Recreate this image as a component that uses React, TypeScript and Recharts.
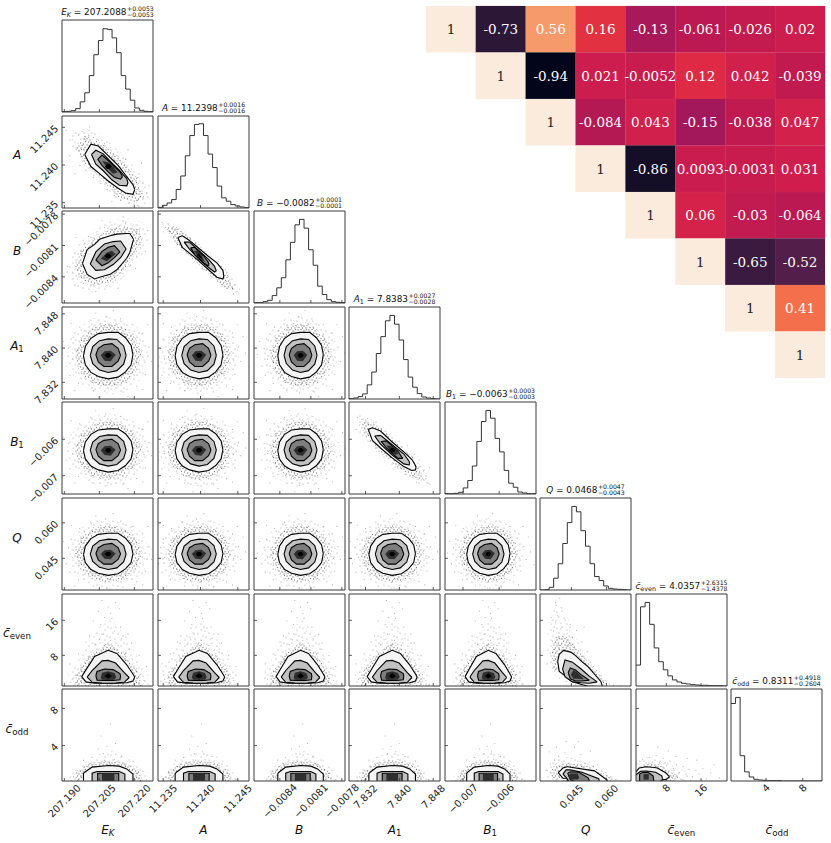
import React from 'react';
import {
  ComposedChart,
  ScatterChart,
  Scatter,
  Area,
  Line,
  XAxis,
  YAxis,
  ReferenceArea,
} from 'recharts';

type Row = [number, number, number];
type Shape = { halo: Row[]; halo2: Row[]; levels: Row[][]; dots: [number, number][] };

const PARAM_NAMES = ['EK', 'A', 'B', 'A1', 'B1', 'Q', 'even', 'odd'];
const MEDIANS = [207.2088, 11.2398, -0.0082, 7.8383, -0.0063, 0.0468, 4.04, 0.83];
const SIGMAS = [0.0053, 0.0016, 0.00011, 0.00275, 0.0003, 0.0045, 1, 1];
const RANGES = [
  [207.189, 207.228],
  [11.2343, 11.2465],
  [-0.00865, -0.00777],
  [7.8281, 7.8496],
  [-0.0075, -0.00498],
  [0.0316, 0.0705],
  [1, 22],
  [0.18, 10.1],
];
const TICKS = [
  [207.19, 207.205, 207.22],
  [11.235, 11.24, 11.245],
  [-0.0084, -0.0081, -0.0078],
  [7.832, 7.84, 7.848],
  [-0.007, -0.006],
  [0.045, 0.06],
  [8, 16],
  [4, 8],
];
const TICK_DIGITS = [3, 3, 4, 3, 3, 3, 0, 0];

// bin heights, 20 bins each
const HIST_EK = [1, 2, 4, 10, 30, 57, 108, 170, 212, 247, 245, 220, 176, 108, 68, 35, 12, 5, 2, 1];
const HIST_A = [2, 8, 15, 25, 55, 95, 155, 215, 248, 250, 215, 160, 120, 65, 30, 20, 10, 6, 3, 1];
const HIST_B = [1, 1, 4, 8, 22, 45, 75, 128, 180, 232, 248, 222, 158, 112, 50, 25, 10, 4, 2, 1];
const HIST_A1 = [1, 3, 7, 15, 42, 80, 135, 185, 232, 248, 222, 175, 117, 65, 35, 16, 6, 3, 1, 0];
const HIST_B1 = [1, 1, 2, 5, 18, 40, 83, 156, 215, 248, 225, 165, 125, 70, 32, 20, 6, 3, 1, 1];
const HIST_Q = [0, 1, 8, 35, 78, 138, 200, 248, 232, 176, 130, 78, 40, 28, 12, 5, 3, 2, 1, 0];
const HIST_EVEN = [62, 235, 248, 183, 113, 72, 48, 30, 18, 12, 8, 6, 4, 3, 2, 2, 1, 1, 1, 0];
const HIST_ODD = [230, 248, 75, 27, 12, 5, 3, 2, 1, 1, 1, 0, 0, 0, 0, 0, 0, 0, 0, 0];
const HISTS = [HIST_EK, HIST_A, HIST_B, HIST_A1, HIST_B1, HIST_Q, HIST_EVEN, HIST_ODD];

const SPOT: Row[] = [[-0.28, 0, 0], [-0.1, -0.2, 0.2], [0.1, -0.2, 0.2], [0.28, 0, 0]];

// contour outlines: [x, low, high], in sigmas from the medians
const ROUND: Shape = {
  halo: [[-3.4, 0, 0], [-2.8, -1.9, 1.9], [-1.4, -3, 3.1], [0, -3.4, 3.4], [1.4, -3.1, 3], [2.8, -1.9, 2], [3.4, 0, 0]],
  halo2: [[-2.7, 0, 0], [-2.2, -1.5, 1.5], [-1.2, -2.4, 2.4], [0, -2.7, 2.7], [1.2, -2.4, 2.4], [2.2, -1.5, 1.5], [2.7, 0, 0]],
  levels: [
    [[-2, -0.05, -0.05], [-1.85, -0.8, 0.75], [-1.4, -1.45, 1.45], [-0.8, -1.8, 1.85], [0, -2, 1.95], [0.8, -1.85, 1.95], [1.4, -1.4, 1.5], [1.85, -0.8, 0.85], [2, 0.05, 0.05]],
    [[-1.45, 0, 0], [-1.25, -0.7, 0.75], [-0.7, -1.25, 1.25], [0, -1.45, 1.4], [0.7, -1.3, 1.35], [1.25, -0.75, 0.8], [1.45, 0, 0]],
    [[-1, 0.05, 0.05], [-0.8, -0.55, 0.6], [-0.35, -0.95, 0.9], [0.3, -0.95, 1], [0.8, -0.5, 0.6], [1, 0, 0]],
    [[-0.6, 0, 0], [-0.3, -0.45, 0.35], [0.2, -0.5, 0.4], [0.6, 0.05, 0.05]],
    SPOT,
  ],
  dots: [[-2.6, 0.4], [-2.4, -1.1], [-2.9, -0.3], [-3.2, 0.6], [-2.2, 1.5], [-1.9, 2.1], [-1.2, 2.5], [-0.6, 2.7], [0.1, 2.5], [0.7, 2.6], [1.4, 2.2], [2, 1.8], [2.5, 1], [2.7, 0.3], [2.9, -0.4], [2.5, -1.2], [2.1, -1.7], [1.5, -2.3], [0.8, -2.6], [0.1, -2.4], [-0.6, -2.6], [-1.3, -2.3], [-1.9, -1.9], [-3.4, -0.9], [-3, 1.4], [-2.3, 2.4], [-1.4, 3], [-0.2, 3.3], [1, 3.1], [2, 2.6], [2.8, 1.9], [3.3, 0.7], [3.5, -0.5], [3, -1.6], [2.3, -2.6], [1.2, -3.1], [-0.1, -3.2], [-1.2, -3], [-2.4, -2.4], [-3.1, -1.7], [-3.8, 0.1], [-3.6, 1.2], [0.4, 3.8], [-1, 3.6], [3.9, 0.2], [3.7, 1.6], [-0.5, -3.8], [1.6, -3.5], [-2.7, -3], [2.8, -2.9], [-3, 2.7], [3.2, 2.6], [4.2, -1], [-4.3, -0.6]],
};

const EK_A: Shape = {
  halo: [[-3.3, 2.6, 2.6], [-2.6, 0.9, 3.2], [-1, -1.1, 3], [0.5, -2.7, 1.7], [2, -3.6, 0.1], [3.2, -3.2, -1.4], [3.6, -2.7, -2.7]],
  halo2: [[-2.6, 1.5, 1.5], [-1.9, 0.3, 2.6], [-0.5, -1.1, 1.9], [0.9, -2.6, 0.7], [2.3, -3, -0.9], [2.9, -2.5, -2.5]],
  levels: [
    [[-1.9, 1, 1], [-1.4, 0, 1.85], [-0.8, -0.5, 1.7], [0, -1.2, 0.9], [0.8, -1.8, 0.1], [1.4, -2.2, -0.7], [2, -2.3, -1.5], [2.15, -1.9, -1.9]],
    [[-1.35, 1, 1], [-1, 0.2, 1.35], [-0.4, -0.35, 1.05], [0.3, -1.1, 0.3], [0.9, -1.55, -0.3], [1.5, -1.6, -1], [1.6, -1.35, -1.35]],
    [[-0.85, 0.6, 0.6], [-0.5, 0.1, 0.95], [0, -0.45, 0.5], [0.5, -0.9, 0], [1, -1.05, -0.5], [1.15, -0.85, -0.85]],
    [[-0.5, 0.45, 0.45], [0, -0.2, 0.35], [0.4, -0.6, 0], [0.75, -0.5, -0.5]],
    SPOT,
  ],
  dots: [[-2.9, 2.2], [-2.6, 1.6], [-2.4, 2.6], [-2.2, 0.8], [-2.1, 2.9], [-1.9, 2.3], [-1.6, 2.6], [-1.2, 2.4], [-2.3, 0.1], [-1.8, -0.3], [-1.2, -0.9], [-0.8, 2.2], [-0.3, 1.9], [0.2, 1.6], [0.8, 1.2], [1.4, 0.6], [1.9, -0.2], [2.4, -0.9], [-0.6, -1.4], [-0.1, -1.9], [0.5, -2.4], [1, -2.8], [1.7, -3], [2.4, -3.2], [2.8, -2.7], [3.1, -2.2], [3.3, -1.6], [2.8, -1.4], [-3.4, 3], [-3.1, 0.9], [3.6, -3.1], [0.3, -2.9], [-1.5, 3.3], [1.6, 1.4], [-2.7, -0.6], [2.7, 0.3]],
};

const EK_B: Shape = {
  halo: [[-3.4, -1.4, -1.4], [-2.8, -2.6, 0.7], [-1.2, -3.2, 2.2], [0.3, -2.8, 3.1], [1.6, -1.5, 3.3], [2.8, 0.2, 2.9], [3.3, 1.4, 1.4]],
  halo2: [[-2.7, -1, -1], [-2.2, -2.1, 0.5], [-1, -2.6, 1.6], [0.3, -2.2, 2.4], [1.5, -1, 2.6], [2.5, 0.7, 2.3], [2.7, 1.5, 1.5]],
  levels: [
    [[-2.08, -0.65, -0.65], [-1.7, -1.6, 0.55], [-1.1, -2, 1], [-0.7, -1.85, 1.45], [0.15, -1.6, 1.75], [0.7, -1.2, 1.9], [1.5, -0.2, 1.95], [1.75, 0.3, 1.95], [2.05, 1.45, 1.45]],
    [[-1.45, -0.7, -0.7], [-1, -1.25, 0.35], [-0.3, -1.2, 1.05], [0.4, -0.75, 1.25], [1, -0.15, 1.3], [1.45, 0.6, 0.6]],
    [[-1, -0.35, -0.35], [-0.5, -0.85, 0.4], [0, -0.6, 0.75], [0.5, -0.15, 0.9], [0.95, 0.35, 0.35]],
    [[-0.6, -0.25, -0.25], [-0.1, -0.45, 0.3], [0.3, -0.1, 0.45], [0.6, 0.15, 0.15]],
    SPOT,
  ],
  dots: [[-2.9, -1.4], [-2.6, -0.6], [-2.5, -2], [-2.2, 0.4], [-1.9, 1.1], [-1.6, 1.7], [-2, -2.4], [-1.4, -2.6], [-0.7, -2.5], [-0.9, 2.1], [-0.3, 2.5], [0.3, 2.7], [0.9, 2.6], [1.4, 2.8], [2, 2.6], [2.5, 2.3], [2.7, 1.4], [2.6, 0.7], [2.3, 0], [1.8, -0.8], [1.2, -1.5], [0.6, -2.1], [0, -2.3], [-3.3, -0.9], [-1, -3.1], [0.8, -2.8], [2.2, -1.1], [3, 0.4], [3.2, 2.2], [1.2, 3.4], [-0.5, 3.1], [-2.6, 1.6]],
};

const A_B: Shape = {
  halo: [[-3.4, 3.1, 3.1], [-2.6, 1.9, 3.1], [-1.4, 0.5, 2.3], [0, -0.9, 1], [1.4, -2.3, -0.3], [2.7, -3.3, -1.7], [3.5, -3.5, -3.5]],
  halo2: [[-2.8, 2.5, 2.5], [-2, 1.1, 2.6], [-0.8, 0, 1.7], [0.8, -1.6, 0.1], [2.2, -2.8, -1.2], [3, -3, -3]],
  levels: [
    [[-1.78, 1.6, 1.6], [-1.4, 0.75, 1.75], [-0.8, 0.25, 1.35], [0, -0.45, 0.65], [0.8, -1.2, -0.05], [1.5, -1.85, -0.6], [2, -2, -1.25], [2.08, -1.77, -1.77]],
    [[-1.25, 1.2, 1.2], [-0.8, 0.6, 1.2], [0, -0.3, 0.45], [0.8, -1, -0.3], [1.3, -1.4, -0.9], [1.45, -1.3, -1.3]],
    [[-0.7, 0.7, 0.7], [-0.35, 0.1, 0.75], [0, -0.2, 0.35], [0.4, -0.6, 0], [0.75, -0.85, -0.5], [0.85, -0.75, -0.75]],
    [[-0.45, 0.4, 0.4], [-0.1, 0, 0.45], [0.2, -0.35, 0.1], [0.5, -0.5, -0.5]],
    [[-0.2, 0.1, 0.1], [0, -0.1, 0.2], [0.1, -0.15, 0.05], [0.25, -0.2, -0.2]],
  ],
  dots: [[-3.1, 2.9], [-2.8, 2.5], [-2.6, 2.8], [-2.4, 2.1], [-2.2, 2.5], [-2, 1.7], [-1.9, 2.3], [-2.5, 2.2], [-1.6, 1], [-1.4, 2], [-1, 0.4], [-0.8, 1.6], [0, 1], [0.5, 0.4], [-0.4, -0.5], [0.3, -1.1], [1, -1.9], [1.6, -0.5], [2.2, -1.2], [2.3, -2.2], [2.4, -1.7], [2.6, -2.4], [2.7, -2], [2.8, -2.8], [3, -2.5], [3.2, -3.1], [2.1, -2.6], [2.9, -3.3], [-3, 2.1], [3.4, -2.9]],
};

const A1_B1: Shape = {
  halo: [[-3.2, 3.3, 3.3], [-2.8, 1.5, 3.3], [-1.4, -0.1, 2.7], [0, -1.4, 1.3], [1.4, -2.7, -0.1], [2.7, -3.2, -1.4], [3.4, -3.3, -3.3]],
  halo2: [[-2.7, 2.4, 2.4], [-2.2, 1.1, 2.7], [-1, -0.1, 2.1], [0.5, -1.6, 0.6], [1.9, -2.6, -0.7], [2.7, -2.7, -2.7]],
  levels: [
    [[-2.05, 1.9, 1.9], [-1.7, 0.9, 2.05], [-1, 0.2, 1.75], [0, -0.7, 0.75], [1, -1.5, -0.15], [1.7, -1.85, -0.85], [2, -1.8, -1.4], [2.05, -1.6, -1.6]],
    [[-1.5, 1.3, 1.3], [-1, 0.55, 1.35], [0, -0.45, 0.5], [1, -1.25, -0.35], [1.45, -1.35, -1], [1.5, -1.25, -1.25]],
    [[-0.95, 0.8, 0.8], [-0.5, 0.2, 0.85], [0, -0.3, 0.4], [0.5, -0.75, -0.1], [0.9, -0.75, -0.75]],
    [[-0.5, 0.4, 0.4], [-0.1, -0.15, 0.4], [0.25, -0.45, 0.1], [0.55, -0.3, -0.3]],
    SPOT,
  ],
  dots: [[-3, 3], [-2.8, 2.3], [-2.6, 2.8], [-2.4, 1.6], [-2.3, 2.5], [-2.1, 2.9], [-1.9, 0.8], [-1.6, 2.5], [-1.4, 0.2], [-0.9, 2], [-0.8, -0.4], [-0.2, 1.4], [0.1, -1.2], [0.6, 0.8], [0.7, -1.7], [1.3, 0.4], [1.2, -2.2], [1.9, -0.4], [1.9, -2.4], [2.3, -0.9], [2.3, -2.1], [2.4, -1.5], [2.5, -2.7], [2.7, -1.9], [2.9, -2.6], [3.1, -3], [2.1, -2.9], [-3.1, 1.9], [3.2, -1.6]],
};

const EVEN_TOP: Shape = {
  halo: [[-3.3, -3.2, -3.2], [-3.2, -3.2, 0], [-2.1, -3.2, 5], [-0.9, -3.2, 10], [0.2, -3.2, 12], [1.3, -3.2, 9], [2.3, -3.2, 4], [3.2, -3.2, -0.6], [3.3, -3.2, -3.2]],
  halo2: [[-2.7, -3.2, -3.2], [-2.6, -3.2, -0.2], [-1.5, -3.2, 3.8], [0, -3.2, 7], [1.3, -3.2, 4.4], [2.5, -3.2, -0.2], [2.7, -3.2, -3.2]],
  levels: [
    [[-2.15, -0.9, -0.9], [-1.8, -2.1, 0.65], [-1.1, -2.4, 3.7], [0, -2.4, 5.1], [0.7, -2.4, 4.4], [1.5, -2.3, 1.8], [2, -1.9, -0.3], [2.15, -1, -1]],
    [[-1.7, -1, -1], [-1.3, -2.2, 0.5], [-0.5, -2.35, 2.7], [0, -2.4, 2.8], [0.6, -2.35, 2.2], [1.3, -2.2, 0], [1.7, -1.1, -1.1]],
    [[-1, -0.7, -0.7], [-0.9, -1.7, 0.3], [-0.3, -1.8, 0.85], [0.4, -1.8, 0.7], [0.95, -1.6, -0.2], [1, -0.8, -0.8]],
    [[-0.6, -1.1, -1.1], [-0.5, -1.6, 0], [0, -1.65, 0.35], [0.5, -1.6, -0.1], [0.65, -1, -1]],
    [[-0.3, -0.8, -0.8], [0, -1.3, 0], [0.3, -0.8, -0.8]],
  ],
  dots: [[-2.9, -1.5], [-2.6, -0.6], [-2.5, -2.2], [-2.2, 1], [-1.9, 2.4], [-1.6, 3.6], [-1.3, 5], [-1, 6.4], [-0.7, 7.5], [-0.4, 8.8], [-0.1, 6.5], [0.2, 7.4], [0.5, 9.5], [0.8, 6.2], [1.1, 7.8], [1.4, 4.3], [1.7, 5.4], [2, 2.2], [2.3, 1], [2.6, -0.4], [2.9, -1.8], [3.2, -2.6], [-1.5, 8.4], [-0.6, 11], [0.3, 12.4], [1, 10.4], [-1.2, 11.8], [1.6, 8.8], [-2.4, 4.3], [2.5, 3.9], [0, 15], [-0.8, 14], [0.9, 14.6], [-3.1, 2], [3.1, 1.4], [0.2, 13.5], [-0.3, 12.6], [-0.5, 16.5], [0.6, 16], [-1.8, 7], [1.9, 6.8]],
};

const ODD_TOP: Shape = {
  halo: [[-3.3, -1, -1], [-3.2, -1, -0.1], [-2.1, -1, 1.2], [-0.8, -1, 2.2], [0.4, -1, 2.5], [1.7, -1, 1.9], [2.8, -1, 0.6], [3.4, -1, -0.3], [3.5, -1, -1]],
  halo2: [[-2.7, -1, -1], [-2.6, -1, 0.4], [-1.4, -1, 1.3], [0, -1, 1.6], [1.4, -1, 1.3], [2.6, -1, 0.3], [2.7, -1, -1]],
  levels: [
    [[-2, -1, -1], [-2, -1, 0.15], [-1.9, -1, 0.3], [-1.3, -1, 0.85], [0, -1, 1.02], [0.9, -1, 0.95], [1.5, -1, 0.65], [2, -1, 0.1], [2, -1, -1]],
    [[-1.3, -1, -1], [-1.3, -1, 0.2], [-0.9, -1, 0.37], [0.9, -1, 0.37], [1.35, -1, 0.1], [1.35, -1, -1]],
    [[-0.85, -1, -1], [-0.85, -1, 0.18], [0.85, -1, 0.18], [0.85, -1, -1]],
    [[-0.5, -1, -1], [-0.5, -1, 0.15], [0.5, -1, 0.15], [0.5, -1, -1]],
  ],
  dots: [[-3, -0.6], [-2.8, -0.2], [-2.5, 0.2], [-2.4, -0.5], [-2.1, 0.5], [-1.9, 0.9], [-1.5, 1.2], [-1.1, 1.4], [-0.7, 1.3], [-0.3, 1.6], [0.1, 1.3], [0.5, 1.7], [0.9, 1.4], [1.3, 1.2], [1.7, 1], [2.1, 0.6], [2.4, 0.2], [2.7, -0.3], [3.1, -0.5], [-1.3, 1.9], [-0.4, 2.3], [0.3, 2.5], [1.1, 2], [-0.1, 3.1], [0.6, 3.4], [-0.8, 2.8], [2, 1.5], [-2, 1.6], [0.2, 5.5], [-0.6, 4.2], [2.2, -0.5], [-2.2, -0.2]],
};

const Q_EVEN: Shape = {
  halo: [[-2.7, 6, 6], [-2.6, 2, 11], [-1.9, -0.5, 16], [-1, -1.8, 14], [0, -3, 8], [1, -3.2, 4], [2, -3.2, 0.6], [3.3, -3.2, -2.4], [3.4, -3.2, -3.2]],
  halo2: [[-2.3, 3.8, 3.8], [-2.1, 1, 7.5], [-1.2, -1, 9], [0, -2.6, 5.8], [1.2, -3.2, 2.3], [2.7, -3.2, -1.6], [3, -3.2, -3.2]],
  levels: [
    [[-1.7, 2.6, 2.6], [-1.55, 0.3, 4.2], [-1.14, -0.45, 5.08], [-0.45, -1.84, 4.7], [-0.13, -2.2, 4.16], [0.66, -2.76, 2.4], [1.14, -3.07, 1.47], [2.4, -3.2, -2], [2.55, -3.2, -3.1]],
    [[-1.23, 0.8, 0.8], [-1, -0.9, 2.9], [-0.3, -2.1, 2.4], [0.5, -2.3, 0.9], [1.3, -2.4, -0.8], [2.05, -2.1, -2.1]],
    [[-0.7, 0, 0], [-0.5, -1.4, 1.1], [0, -1.9, 0.6], [0.6, -1.9, -0.6], [1.3, -1.7, -1.7]],
    [[-0.45, -0.5, -0.5], [-0.2, -1.4, 0.6], [0.2, -1.4, 0], [0.8, -1.5, -1.5]],
  ],
  dots: [[-2.4, 4.5], [-2.2, 7.2], [-2.1, 9.5], [-2, 5.4], [-1.9, 11.4], [-1.8, 8], [-1.7, 13], [-1.6, 6.3], [-1.4, 10], [-1.3, 14.8], [-1.1, 7.4], [-1, 12], [-0.8, 9], [-0.7, 6.4], [-0.5, 11], [-0.3, 8], [-0.1, 5.9], [0.1, 9.6], [0.3, 5], [0.6, 7], [0.8, 3.6], [1.1, 4.8], [1.4, 2.4], [1.7, 1.4], [2, 0.5], [2.4, -0.7], [2.8, -1.8], [3.2, -2.6], [-1.9, 16], [-2.3, 12.6], [-1.5, 17], [-2.7, 2], [-2, 0.4], [-1.5, -1.2], [-0.9, -2], [0, -2.7], [3.6, -2.9], [4.3, -3], [0.8, 10.4]],
};

const Q_ODD: Shape = {
  halo: [[-3, 0.2, 0.2], [-2.8, -0.3, 1.1], [-1.7, -0.8, 1.9], [0, -0.9, 2], [1.7, -0.9, 1.2], [3.2, -0.9, 0], [4.2, -0.9, -0.6], [4.3, -0.9, -0.9]],
  halo2: [[-2.4, 0.2, 0.2], [-2.1, -0.4, 0.9], [-1, -0.9, 1.3], [0.5, -0.9, 1.2], [2.1, -0.9, 0.6], [3.5, -0.9, -0.4], [3.6, -0.9, -0.9]],
  levels: [
    [[-1.64, 0.26, 0.26], [-1.2, -0.36, 0.75], [-0.8, -0.36, 0.88], [-0.75, -0.9, 0.88], [1.8, -0.9, 0.44], [3, -0.9, -0.55], [3.05, -0.9, -0.9]],
    [[-1.2, 0.1, 0.1], [-0.9, -0.25, 0.55], [-0.5, -0.9, 0.55], [0.6, -0.9, 0.3], [2.2, -0.9, -0.4], [2.3, -0.9, -0.9]],
    [[-0.75, 0.2, 0.2], [-0.5, -0.5, 0.35], [0.3, -0.9, 0.3], [1.2, -0.9, -0.3], [1.4, -0.9, -0.9]],
    [[-0.7, -0.1, -0.1], [-0.5, -0.5, 0.15], [0.2, -0.5, 0.15], [0.35, -0.3, -0.3]],
  ],
  dots: [[-2.7, 0.5], [-2.4, 1.2], [-2.2, -0.1], [-2, 1.6], [-1.8, 0.9], [-1.6, 2], [-1.3, 1.4], [-1, 2.4], [-0.7, 1.2], [-0.4, 1.8], [-0.1, 3], [0.2, 1.5], [0.5, 2.2], [0.9, 1.2], [1.3, 1.4], [1.7, 0.9], [2.1, 1.1], [2.5, 0.4], [2.9, 0.3], [3.3, -0.2], [3.8, -0.5], [-1.8, 3], [-0.9, 3.6], [0.3, 3.6], [4.4, -0.7], [-2.5, 2.5], [1.4, 2.6], [5, -0.8]],
};

const EVEN_ODD: Shape = {
  halo: [[-3.1, -0.9, -0.9], [-3, -0.9, 1], [-1.5, -0.9, 1.9], [1, -0.9, 2], [3.5, -0.9, 1.5], [6, -0.9, 0.8], [9, -0.8, 0.3], [10, 0, 0]],
  halo2: [[-3.1, -0.9, -0.9], [-3, -0.9, 0.7], [-1, -0.9, 1.2], [2, -0.9, 1.2], [4, -0.9, 0.7], [6.4, -0.6, 0], [6.7, -0.2, -0.2]],
  levels: [
    [[-3.1, -0.9, 0.3], [-2.3, -0.9, 0.75], [-0.71, -0.9, 0.88], [1.2, -0.9, 0.8], [1.9, -0.5, 0.75], [3.8, -0.5, 0.25], [4.7, -0.2, -0.2]],
    [[-3.1, -0.9, 0], [-2, -0.9, 0.4], [-0.5, -0.9, 0.42], [1.5, -0.9, 0.3], [2.9, -0.6, -0.1], [3.1, -0.4, -0.4]],
    [[-2.2, -0.9, -0.9], [-2.2, -0.9, 0.1], [-1.6, -0.9, 0.26], [-0.2, -0.9, 0.26], [0.9, -0.9, -0.1], [1.1, -0.7, -0.7]],
    [[-1.3, -0.5, 0.1], [-0.1, -0.5, 0.1]],
  ],
  dots: [[-2.8, 1.2], [-2.2, 1.5], [-1.5, 1.7], [-0.7, 1.3], [0, 1.9], [0.8, 1.4], [1.6, 2.1], [2.4, 1.3], [3.2, 1.8], [4, 1], [4.8, 1.5], [5.6, 0.7], [6.3, 1.1], [7, 0.3], [7.8, 0.9], [8.5, 0.1], [9.2, 0.6], [10, -0.2], [10.8, 0.5], [11.5, 0.1], [12.4, 0.7], [13.2, -0.4], [14.2, 0.2], [15, 1.1], [16.2, -0.3], [6.2, 2], [8.8, 1.8], [4.4, 2.6], [2, 3], [11, 1.6], [5.4, -0.4], [7.6, -0.5], [9.6, -0.6]],
};

// upper triangle of the correlation table, one list per row
const CORR_0 = [1, -0.73, 0.56, 0.16, -0.13, -0.061, -0.026, 0.02];
const CORR_1 = [1, -0.94, 0.021, -0.0052, 0.12, 0.042, -0.039];
const CORR_2 = [1, -0.084, 0.043, -0.15, -0.038, 0.047];
const CORR_3 = [1, -0.86, 0.0093, -0.0031, 0.031];
const CORR_4 = [1, 0.06, -0.03, -0.064];
const CORR_5 = [1, -0.65, -0.52];
const CORR_6 = [1, 0.41];
const CORR_7 = [1];
const CORR_ROWS = [CORR_0, CORR_1, CORR_2, CORR_3, CORR_4, CORR_5, CORR_6, CORR_7];

const COLOR_STOPS: [number, number[]][] = [
  [-0.94, [3, 5, 26]],
  [-0.86, [20, 14, 38]],
  [-0.73, [44, 23, 55]],
  [-0.65, [58, 26, 63]],
  [-0.52, [83, 30, 74]],
  [-0.15, [163, 24, 91]],
  [-0.06, [188, 25, 82]],
  [0.02, [205, 29, 78]],
  [0.12, [222, 42, 68]],
  [0.16, [226, 50, 66]],
  [0.41, [244, 112, 76]],
  [0.56, [246, 154, 108]],
  [1, [250, 235, 221]],
];

// speckle tiles behind the contours, [x, y] inside a tile
const SPECKLE_SPARSE = [[2, 2], [7, 1], [12, 4], [4, 7], [9, 8], [14, 10], [1, 11], [6, 13], [12, 14], [15, 1]];
const SPECKLE_DENSE = [[1, 1], [4, 0.5], [7, 2], [9.5, 0.5], [2.5, 3.5], [5.5, 4], [8.5, 5], [0.5, 6], [4, 7], [7, 8], [10, 7.5], [2, 9.5], [5.5, 10], [9, 10]];

const LEFT0 = 62.3;
const TOP0 = 20;
const PITCH = 95.6;
const SIZE = 91;
const SANS = '"DejaVu Sans", sans-serif';
const LEVEL_FILLS = ['#f5f5f5', '#c2c2c2', '#7e7e7e', '#2e2e2e', '#000000'];

const corrColor = (v: number) => {
  for (let i = 1; i < COLOR_STOPS.length; i++) {
    const [b, cb] = COLOR_STOPS[i];
    if (v <= b) {
      const [a, ca] = COLOR_STOPS[i - 1];
      const t = (v - a) / (b - a);
      return `rgb(${ca.map((c, k) => Math.round(c + (cb[k] - c) * t)).join(',')})`;
    }
  }
  return 'rgb(250,235,221)';
};

const shapeFor = (row: number, col: number): Shape => {
  if (row === 1 && col === 0) return EK_A;
  if (row === 2 && col === 0) return EK_B;
  if (row === 2 && col === 1) return A_B;
  if (row === 4 && col === 3) return A1_B1;
  if (row === 6) return col === 5 ? Q_EVEN : EVEN_TOP;
  if (row === 7) return col === 5 ? Q_ODD : col === 6 ? EVEN_ODD : ODD_TOP;
  return ROUND;
};

const fmtTick = (v: number, digits: number) =>
  (digits ? v.toFixed(digits) : String(v)).replace('-', '\u2212');

const XTick = ({ x, y, payload, digits, showLabel }: any) => {
  const text = fmtTick(payload.value, digits);
  const half = (text.length * 6 * 0.707) / 2;
  return (
    <g>
      <line x1={x} x2={x} y1={y} y2={y - 3} stroke="#333" strokeWidth={0.8} />
      {showLabel && (
        <text
          x={x}
          y={y + 5 + half}
          fontSize={10}
          fontFamily={SANS}
          fill="#222"
          textAnchor="middle"
          dominantBaseline="central"
          transform={`rotate(-45 ${x} ${y + 5 + half})`}
        >
          {text}
        </text>
      )}
    </g>
  );
};

const YTick = ({ x, y, payload, digits, showLabel }: any) => (
  <g>
    <line x1={x} x2={x + 3} y1={y} y2={y} stroke="#333" strokeWidth={0.8} />
    {showLabel && (
      <text
        x={x - 3}
        y={y + 2}
        fontSize={10}
        fontFamily={SANS}
        fill="#222"
        textAnchor="end"
        transform={`rotate(-45 ${x - 3} ${y + 2})`}
      >
        {fmtTick(payload.value, digits)}
      </text>
    )}
  </g>
);

const Dot = ({ cx, cy }: any) => <circle cx={cx} cy={cy} r={0.55} fill="#777" fillOpacity={0.6} />;

const PairPanel = ({ row, col }: { row: number; col: number }) => {
  const shape = shapeFor(row, col);
  const toBand = (rows: Row[]) =>
    rows.map(([u, lo, hi]) => ({
      x: MEDIANS[col] + u * SIGMAS[col],
      band: [MEDIANS[row] + lo * SIGMAS[row], MEDIANS[row] + hi * SIGMAS[row]],
    }));
  const dots = shape.dots.map(([u, v]) => ({
    x: MEDIANS[col] + u * SIGMAS[col],
    y: MEDIANS[row] + v * SIGMAS[row],
  }));
  return (
    <PanelFrame row={row} col={col} yDomain={RANGES[row]} yTicks={TICKS[row]} yDigits={TICK_DIGITS[row]}>
      {[shape.halo, shape.halo2].map((rows, i) => (
        <Area
          key={`halo${i}`}
          data={toBand(rows)}
          dataKey="band"
          type="linear"
          stroke="none"
          fill={i ? 'url(#speckleDense)' : 'url(#speckleSparse)'}
          fillOpacity={1}
          dot={false}
          activeDot={false}
          isAnimationActive={false}
        />
      ))}
      <Scatter data={dots} dataKey="y" shape={<Dot />} zIndex={50} isAnimationActive={false} />
      {shape.levels.map((rows, i) => (
        <Area
          key={`level${i}`}
          data={toBand(rows)}
          dataKey="band"
          type="linear"
          stroke={i < 3 ? '#000' : 'none'}
          strokeWidth={1.1}
          fill={LEVEL_FILLS[i]}
          fillOpacity={1}
          dot={false}
          activeDot={false}
          isAnimationActive={false}
        />
      ))}
    </PanelFrame>
  );
};

const HistPanel = ({ index }: { index: number }) => {
  const [lo, hi] = RANGES[index];
  const bins = HISTS[index];
  const step = (hi - lo) / bins.length;
  const rows = [...bins, bins[bins.length - 1]].map((y, i) => ({ x: lo + i * step, y }));
  return (
    <PanelFrame row={index} col={index} yDomain={[0, 273]} yTicks={[]} yDigits={0}>
      <Line
        data={rows}
        dataKey="y"
        type="stepAfter"
        stroke="#333"
        strokeWidth={1}
        dot={false}
        activeDot={false}
        isAnimationActive={false}
      />
    </PanelFrame>
  );
};

const PanelFrame = ({ row, col, yDomain, yTicks, yDigits, children }: any) => {
  const [xLo, xHi] = RANGES[col];
  return (
    <div
      style={{
        position: 'absolute',
        left: Math.round(LEFT0 + col * PITCH) - 1,
        top: Math.round(TOP0 + row * PITCH),
      }}
    >
      <ComposedChart
        width={SIZE + 2}
        height={SIZE + 2}
        margin={{ top: 0, right: 1, bottom: 0, left: 0 }}
      >
        <XAxis
          xAxisId={0}
          type="number"
          dataKey="x"
          domain={[xLo, xHi]}
          ticks={TICKS[col]}
          interval={0}
          height={1}
          allowDataOverflow
          axisLine={false}
          tickLine={false}
          tickSize={0}
          tickMargin={0}
          tick={<XTick digits={TICK_DIGITS[col]} showLabel={row === 7} />}
        />
        <YAxis
          yAxisId={0}
          type="number"
          dataKey="y"
          domain={yDomain}
          ticks={yTicks}
          interval={0}
          width={1}
          allowDataOverflow
          axisLine={false}
          tickLine={false}
          tickSize={0}
          tickMargin={0}
          tick={<YTick digits={yDigits} showLabel={col === 0} />}
        />
        {children}
        <ReferenceArea
          x1={xLo}
          x2={xHi}
          y1={yDomain[0]}
          y2={yDomain[1]}
          fill="none"
          stroke="#3a3a3a"
          strokeWidth={1}
          ifOverflow="visible"
        />
      </ComposedChart>
    </div>
  );
};

const Sym = ({ name }: { name: string }) => {
  const sub = { fontSize: '0.72em', verticalAlign: '-0.28em', lineHeight: 0 };
  if (name === 'EK') return <span><i>E</i><i style={sub}>K</i></span>;
  if (name === 'A1') return <span><i>A</i><span style={sub}>1</span></span>;
  if (name === 'B1') return <span><i>B</i><span style={sub}>1</span></span>;
  if (name === 'even') return <span><i>c&#772;</i><span style={sub}>even</span></span>;
  if (name === 'odd') return <span><i>c&#772;</i><span style={sub}>odd</span></span>;
  return <i>{name}</i>;
};

const TITLE_VALUES = ['207.2088', '11.2398', '\u22120.0082', '7.8383', '\u22120.0063', '0.0468', '4.0357', '0.8311'];
const TITLE_PLUS = ['0.0053', '0.0016', '0.0001', '0.0027', '0.0003', '0.0047', '2.6315', '0.4918'];
const TITLE_MINUS = ['0.0053', '0.0016', '0.0001', '0.0028', '0.0003', '0.0043', '1.4378', '0.2604'];

const Title = ({ index }: { index: number }) => (
  <div
    style={{
      position: 'absolute',
      left: Math.round(LEFT0 + index * PITCH) - 10,
      width: SIZE + 20,
      top: Math.round(TOP0 + index * PITCH) - 17,
      height: 18,
      display: 'flex',
      alignItems: 'center',
      justifyContent: 'center',
      fontFamily: SANS,
      fontSize: 8.9,
      color: '#111',
      whiteSpace: 'nowrap',
    }}
  >
    <Sym name={PARAM_NAMES[index]} />
    <span>&nbsp;= {TITLE_VALUES[index]}</span>
    <span style={{ display: 'inline-flex', flexDirection: 'column', fontSize: 6.2, lineHeight: '6.3px', marginLeft: 0.5 }}>
      <span>+{TITLE_PLUS[index]}</span>
      <span>{'\u2212'}{TITLE_MINUS[index]}</span>
    </span>
  </div>
);

const AxisName = ({ index, horizontal }: { index: number; horizontal: boolean }) => {
  const center = horizontal
    ? LEFT0 + index * PITCH + SIZE / 2
    : TOP0 + index * PITCH + SIZE / 2 - 6;
  const style: React.CSSProperties = horizontal
    ? { left: center - 30, width: 60, top: 822, textAlign: 'center' }
    : { left: -13, width: 60, top: center - 8, textAlign: 'center' };
  return (
    <div style={{ position: 'absolute', fontFamily: SANS, fontSize: 12, color: '#111', lineHeight: '16px', ...style }}>
      <Sym name={PARAM_NAMES[index]} />
    </div>
  );
};

const HeatCell = ({ cx, cy, payload }: any) => {
  const w = 49.9;
  const h = 46.45;
  const isOne = payload.value === 1;
  const fill = corrColor(payload.value);
  return (
    <g>
      <rect x={cx - w / 2} y={cy - h / 2} width={w} height={h} fill={fill} stroke={fill} strokeWidth={0.2} />
      <text
        x={cx}
        y={cy}
        fontSize={13.5}
        fontFamily='"DejaVu Serif", serif'
        textAnchor="middle"
        dominantBaseline="central"
        fill={isOne ? '#262626' : '#fff'}
      >
        {payload.value}
      </text>
    </g>
  );
};

const corrCells = CORR_ROWS.flatMap((values, r) =>
  values.map((value, i) => ({ x: r + i + 0.5, y: r + 0.5, value })),
);

const Speckle = ({ id, size, spots, r, opacity }: any) => (
  <pattern id={id} width={size} height={size} patternUnits="userSpaceOnUse">
    {spots.map(([x, y]: number[], i: number) => (
      <circle key={i} cx={x} cy={y} r={r} fill="#555" fillOpacity={opacity} />
    ))}
  </pattern>
);

const App = () => {
  const indices = PARAM_NAMES.map((_, i) => i);
  return (
    <div style={{ position: 'absolute', left: 0, top: 0, width: 831, height: 843, background: '#fff', overflow: 'hidden' }}>
      <style>{'.recharts-surface { overflow: visible; }'}</style>
      <svg width={0} height={0} style={{ position: 'absolute' }}>
        <defs>
          <Speckle id="speckleSparse" size={16} spots={SPECKLE_SPARSE} r={0.6} opacity={0.55} />
          <Speckle id="speckleDense" size={11} spots={SPECKLE_DENSE} r={0.65} opacity={0.7} />
        </defs>
      </svg>
      <div style={{ position: 'absolute', left: 426, top: 6 }}>
        <ScatterChart width={399} height={372} margin={{ top: 0, right: 0, bottom: 0, left: 0 }}>
          <XAxis type="number" dataKey="x" domain={[0, 8]} hide />
          <YAxis type="number" dataKey="y" domain={[0, 8]} reversed hide />
          <Scatter data={corrCells} dataKey="y" shape={<HeatCell />} isAnimationActive={false} />
        </ScatterChart>
      </div>
      {indices.map((row) =>
        indices
          .filter((col) => col < row)
          .map((col) => <PairPanel key={`${row}-${col}`} row={row} col={col} />),
      )}
      {indices.map((i) => <HistPanel key={i} index={i} />)}
      {indices.map((i) => <Title key={i} index={i} />)}
      {indices.slice(1).map((i) => <AxisName key={i} index={i} horizontal={false} />)}
      {indices.map((i) => <AxisName key={`x${i}`} index={i} horizontal />)}
    </div>
  );
};

export default App;
